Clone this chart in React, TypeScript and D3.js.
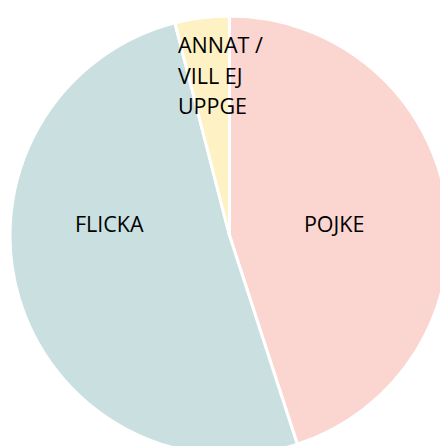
import React, { useEffect, useRef } from "react";
import * as d3 from "d3";

const categories = ["POJKE", "FLICKA", "ANNAT / VILL EJ UPPGE"];
const values = [45, 51, 4];
const colors = ["#FBD5D0", "#CADFE0", "#FEF1C4"];
// label lines and their anchor, as fractions of the radius from the centre
const labelLines = [["POJKE"], ["FLICKA"], ["ANNAT /", "VILL EJ", "UPPGE"]];
const labelPos: [number, number, string][] = [
  [0.477, -0.016, "middle"],
  [-0.548, -0.016, "middle"],
  [-0.235, -0.831, "start"],
];

export default function App() {
  const ref = useRef<SVGSVGElement>(null);

  useEffect(() => {
    const width = 440;
    const height = 446;
    const cx = 229.5;
    const cy = 235.5;
    const radius = 219.5;

    const svg = d3.select(ref.current);
    svg.selectAll("*").remove();

    const data = categories.map((c, i) => ({ name: c, value: values[i], i }));
    const pie = d3.pie<any>().value(d => d.value).sort(null);
    const arc = d3.arc<any>().innerRadius(0).outerRadius(radius);

    const g = svg.append("g").attr("transform", `translate(${cx},${cy})`);

    g.selectAll("path")
      .data(pie(data))
      .join("path")
      .attr("d", arc)
      .attr("fill", d => colors[d.data.i])
      .attr("stroke", "#fff")
      .attr("stroke-width", 3)
      .attr("stroke-linejoin", "round");

    const lbl = g.selectAll("text.lbl")
      .data(data)
      .join("text")
      .attr("class", "lbl")
      .attr("font-family", "'Open Sans', sans-serif")
      .attr("font-size", 21.5)
      .attr("fill", "#000")
      .attr("text-anchor", d => labelPos[d.i][2])
      .attr("x", d => labelPos[d.i][0] * radius)
      .attr("y", d => labelPos[d.i][1] * radius);

    lbl.selectAll("tspan")
      .data(d => labelLines[d.i].map(t => ({ t, x: labelPos[d.i][0] * radius })))
      .join("tspan")
      .attr("x", d => d.x)
      .attr("dy", (d, i) => (i === 0 ? 0 : 30.5))
      .text(d => d.t);

    svg.attr("width", width).attr("height", height);
  }, []);

  return (
    <div style={{ position: "absolute", left: 0, top: 0 }}>
      <svg ref={ref} style={{ display: "block" }}></svg>
    </div>
  );
}
